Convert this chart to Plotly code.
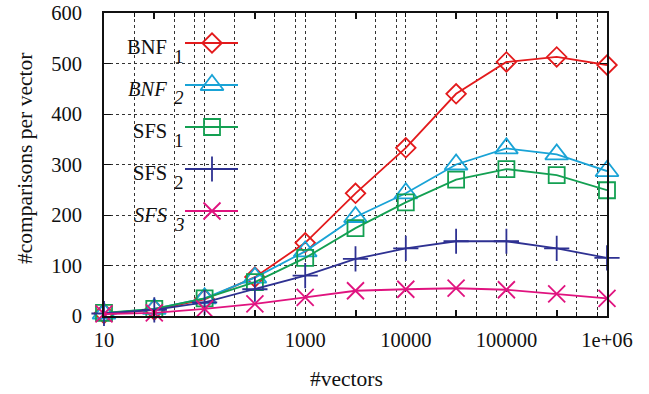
import plotly.graph_objects as go

# ---- data ----
vectors = [10, 31.6228, 100, 316.228, 1000, 3162.28, 10000, 31622.8, 100000, 316228, 1000000]
bnf1 = [5, 12, 33, 77, 145, 243, 333, 440, 503, 513, 497]
bnf2 = [5, 14, 35, 76, 128, 196, 243, 300, 332, 320, 287]
sfs1 = [6, 14, 35, 67, 115, 174, 225, 270, 291, 279, 249]
sfs2 = [5, 12, 27, 53, 80, 113, 134, 148, 148, 134, 115]
sfs3 = [4, 6, 14, 24, 37, 50, 53, 55, 52, 44, 35]

series_main = ["BNF", "<i>BNF</i>", "SFS", "SFS", "<i>SFS</i>"]
series_sub = ["1", "<i>2</i>", "1", "2", "<i>3</i>"]
series_names = ["BNF_1", "BNF_2", "SFS_1", "SFS_2", "SFS_3"]
series_values = [bnf1, bnf2, sfs1, sfs2, sfs3]
colors = ["#e31a1c", "#19a3d6", "#13a052", "#2e3192", "#e0137f"]
symbols = ["diamond-open", "triangle-up-open", "square-open", "cross-thin-open", "x-thin-open"]
msizes = [15, 20, 16, 18, 17]

x_tick_vals = [10, 100, 1000, 10000, 100000, 1000000]
x_tick_text = ["10", "100", "1000", "10000", "100000", "1e+06"]
half_decades = [31.6228, 316.228, 3162.28, 31622.8, 316228]
grid_mult = [2, 5, 8]

FONT = "Liberation Serif"
W, H = 649, 394

fig = go.Figure()
for name, vals, c, s, ms in zip(series_names, series_values, colors, symbols, msizes):
    fig.add_trace(go.Scatter(
        x=vectors, y=vals, mode="lines+markers", name=name,
        line=dict(color=c, width=1.8),
        marker=dict(symbol=s, size=ms, color=c, line=dict(color=c, width=1.8)),
        showlegend=False, cliponaxis=False))

# major ticks: decades (labelled) + 2,5,8 multiples (unlabelled), gridlines on these
major_vals, major_text = [], []
for v, t in zip(x_tick_vals, x_tick_text):
    major_vals.append(v)
    major_text.append(t)
    if v < 1000000:
        for m in grid_mult:
            major_vals.append(v * m)
            major_text.append("")

# plot area in pixels
PL, PR, PT, PB = 104, 607, 13, 316
def px(xp):
    return (xp - PL) / (PR - PL)
def py(yp):
    return (PB - yp) / (PB - PT)

row_y = [43, 85, 127, 169, 211]
shapes = [dict(type="rect", xref="paper", yref="paper", layer="between",
               x0=px(128), x1=px(249), y0=py(232), y1=py(PT + 2),
               fillcolor="white", line=dict(width=0))]
annotations = []
for i, (m, sb, c, s, ms) in enumerate(zip(series_main, series_sub, colors, symbols, msizes)):
    r = row_y[i]
    shapes.append(dict(type="line", xref="paper", yref="paper", layer="above",
                       x0=px(185), x1=px(238), y0=py(r), y1=py(r),
                       line=dict(color=c, width=1.8)))
    annotations.append(dict(xref="paper", yref="paper", x=px(169), y=py(r + 4),
                            xanchor="right", yanchor="middle", showarrow=False,
                            text=m, font=dict(family=FONT, size=20.5, color="#111")))
    annotations.append(dict(xref="paper", yref="paper", x=px(172), y=py(r + 13),
                            xanchor="left", yanchor="middle", showarrow=False,
                            text=sb, font=dict(family=FONT, size=19, color="#111")))
    fig.add_trace(go.Scatter(x=[px(212)], y=[py(r)], xaxis="x2", yaxis="y2", mode="markers",
                             marker=dict(symbol=s, size=ms, color=c, line=dict(color=c, width=1.8)),
                             showlegend=False, hoverinfo="skip"))

annotations.append(dict(xref="paper", yref="paper", x=px(346), y=py(379), xanchor="center",
                        yanchor="middle", showarrow=False, text="#vectors",
                        font=dict(family=FONT, size=21.5, color="#111")))
annotations.append(dict(xref="paper", yref="paper", x=px(25), y=py(159), xanchor="center",
                        yanchor="middle", showarrow=False, text="#comparisons per vector",
                        textangle=-90, font=dict(family=FONT, size=21.5, color="#111")))

grid_style = dict(gridcolor="#333", griddash="3px,3px", gridwidth=1)

fig.update_layout(
    width=W, height=H,
    margin=dict(l=PL, r=W - PR, t=PT, b=H - PB, pad=0, autoexpand=False),
    paper_bgcolor="white", plot_bgcolor="white",
    font=dict(family=FONT, size=20.5, color="#111"),
    xaxis=dict(type="log", range=[1, 6], tickmode="array", tickvals=major_vals,
               ticktext=major_text, ticks="inside", ticklen=4, tickwidth=1, tickcolor="#111",
               showline=True, linecolor="#111", linewidth=2, mirror="allticks",
               showgrid=True, ticklabelstandoff=4, zeroline=False, automargin=False,
               minor=dict(tickmode="array", tickvals=half_decades, ticks="inside",
                          ticklen=6, tickwidth=2, tickcolor="#111", showgrid=False),
               **grid_style),
    yaxis=dict(range=[0, 600], tickmode="linear", tick0=0, dtick=100,
               ticks="inside", ticklen=7, tickwidth=1, tickcolor="#111",
               showline=True, linecolor="#111", linewidth=2, mirror="allticks",
               showgrid=True, zeroline=False, ticklabelstandoff=16, automargin=False,
               **grid_style),
    xaxis2=dict(overlaying="x", range=[0, 1], visible=False, fixedrange=True),
    yaxis2=dict(overlaying="y", range=[0, 1], visible=False, fixedrange=True),
    shapes=shapes, annotations=annotations,
)

fig.write_html("out.html", config={"displayModeBar": False, "staticPlot": True},
               post_script="document.body.style.margin='0';document.body.style.overflow='hidden';")
